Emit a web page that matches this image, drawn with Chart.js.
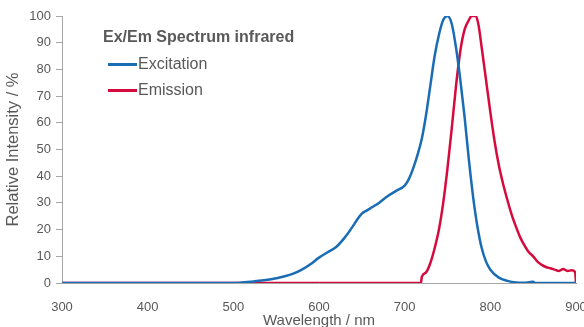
<!DOCTYPE html>
<html><head><meta charset="utf-8">
<script src="https://cdn.jsdelivr.net/npm/chart.js@4.4.0/dist/chart.umd.min.js"></script>
<style>
html,body{margin:0;padding:0;background:#fff;overflow:hidden;width:584px;height:327px;}
#wrap{position:absolute;left:0;top:0;width:600px;height:334px;}
#legend{position:absolute;left:103px;top:27px;font-family:"Liberation Sans",Arial,sans-serif;color:#595959;font-size:16px;line-height:20px;}
#legend .t{font-weight:bold;height:20px;margin-bottom:4px;}
#legend .it{display:flex;align-items:center;height:26px;margin-left:5px;}
#legend .ln{width:29px;height:3px;margin-right:1px;}
</style></head>
<body>
<div id="wrap"><canvas id="c" width="600" height="334"></canvas></div>
<div id="legend"></div>
<script>
const legendTitle = "Ex/Em Spectrum infrared";
const xTicks = [300,400,500,600,700,800,900];
const yTicks = [0,10,20,30,40,50,60,70,80,90,100];

const exWavelength = [300,400,500,510,520,530,540,550,560,570,580,590,600,610,620,630,640,645,650,655,660,670,680,690,700,705,710,715,720,725,730,735,740,745,750,755,760,765,770,775,780,785,790,795,800,810,820,830,840,845,850,852,900];
const exIntensity  = [0,0,0,0.2,0.5,0.8,1.2,1.8,2.5,3.5,5,7,9.5,11.5,13.5,17,21.5,24,26,27,28,30,32.5,34.5,36.5,39,43,48,54,63,74,85,93,98.5,100,97,88,76,62,46,32,21,13,8,5,2,0.8,0.2,0.1,0.3,0.5,0,0];

const emWavelength = [300,719,720,725,730,735,740,745,750,755,760,765,770,775,778,783,786,790,795,800,805,810,815,820,825,830,835,840,845,850,855,860,865,870,875,880,885,890,895,899,900];
const emIntensity  = [0,0,2.3,4,7.5,13,20,30,43,58,74,87,95,98.5,100,100,97,88,76,64,53,44,37,31,25.5,21,17,14,11.5,10,8,6.8,6,5.5,5,4.5,5.2,4.5,4.8,4,0];

const seriesNames = ["Excitation","Emission"];
const seriesColors = ["#1a6db5","#d60b3d"];

const toPts = (xs, ys) => xs.map((x,i)=>({x:x,y:ys[i]}));
const font = "'Liberation Sans', Arial, sans-serif";
const gray = "#595959";

new Chart(document.getElementById('c'), {
  type: 'line',
  data: {
    datasets: [
      {label: seriesNames[0], data: toPts(exWavelength, exIntensity), borderColor: seriesColors[0], borderWidth: 2.5, pointRadius: 0, tension: 0.4, cubicInterpolationMode: 'monotone'},
      {label: seriesNames[1], data: toPts(emWavelength, emIntensity), borderColor: seriesColors[1], borderWidth: 2.5, pointRadius: 0, tension: 0.4, cubicInterpolationMode: 'monotone'}
    ]
  },
  options: {
    responsive: false,
    animation: false,
    layout: {padding: {top: 16, right: 24, left: 0, bottom: 0}},
    plugins: {legend: {display: false}, tooltip: {enabled: false}},
    scales: {
      x: {
        type: 'linear', min: 300, max: 900,
        afterBuildTicks: s => { s.ticks = xTicks.map(v=>({value:v})); },
        afterFit: s => { s.height = 51; },
        grid: {display: false},
        border: {display: true, color: '#a6a6a6', width: 1},
        ticks: {color: gray, font: {family: font, size: 13}, padding: 9},
        title: {display: true, text: 'Wavelength / nm', color: gray, font: {family: font, size: 15}}
      },
      y: {
        min: 0, max: 100,
        afterBuildTicks: s => { s.ticks = yTicks.map(v=>({value:v})); },
        afterFit: s => { s.width = 62; },
        grid: {display: true, drawOnChartArea: false, drawTicks: true, tickLength: 6, color: '#a6a6a6'},
        border: {display: true, color: '#a6a6a6', width: 1},
        ticks: {color: gray, font: {family: font, size: 13}, padding: 5},
        title: {display: true, text: 'Relative Intensity / %', color: gray, font: {family: font, size: 16.5}, padding: {top: 4, bottom: 4}}
      }
    }
  }
});

const lg = document.getElementById('legend');
let html = '<div class="t">' + legendTitle + '</div>';
seriesNames.forEach((n,i)=>{ html += '<div class="it"><span class="ln" style="background:'+seriesColors[i]+'"></span><span>'+n+'</span></div>'; });
lg.innerHTML = html;
</script>
</body></html>
